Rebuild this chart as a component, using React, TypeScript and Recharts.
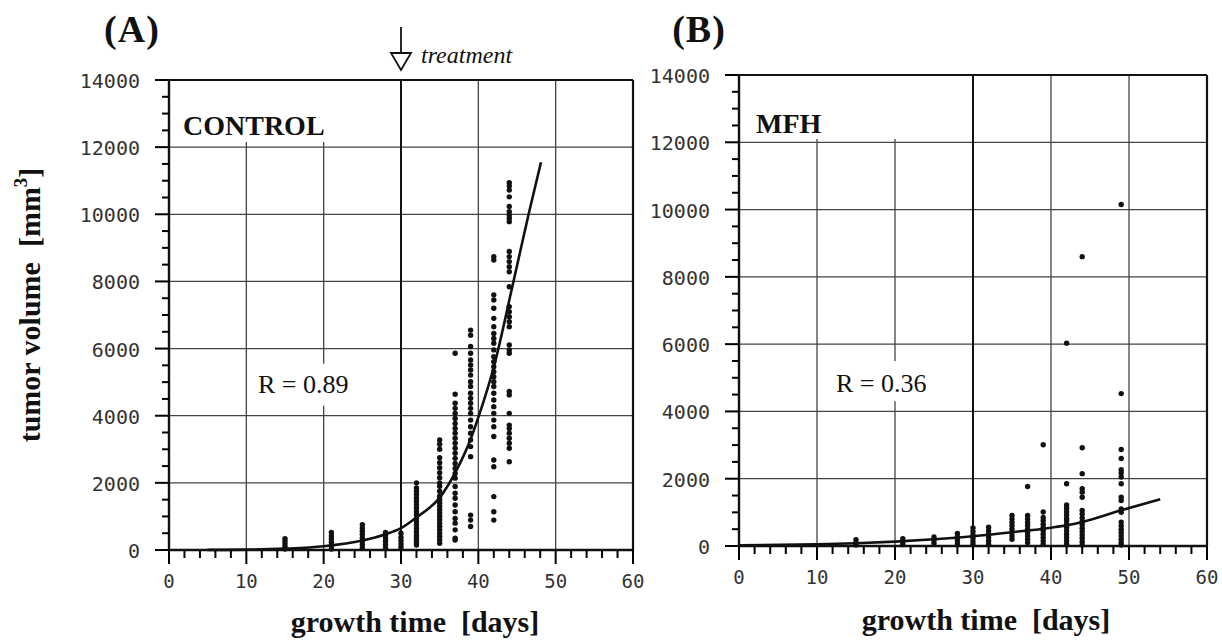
import React from 'react';
import { ComposedChart, Scatter, Line, XAxis, YAxis, ReferenceLine } from 'recharts';

// ---------- data ----------
const controlDays = [15, 21, 25, 28, 30, 32, 35, 37, 39, 42, 44];
const controlVolumes = [
  [30, 110, 190, 270, 340],
  [30, 130, 230, 330, 420, 520],
  [60, 160, 260, 360, 460, 560, 650, 750],
  [60, 160, 260, 360, 450, 520],
  [80, 180, 280, 380, 500],
  [150, 220, 300, 380, 450, 550, 650, 750, 850, 950, 1050, 1150, 1250, 1350, 1450, 1550, 1650, 1750, 1850, 2000],
  [200, 300, 400, 500, 600, 700, 800, 900, 1000, 1100, 1200, 1300, 1400, 1500, 1600, 1750, 1900, 2000, 2150, 2300, 2450, 2600, 2750, 3000, 3150, 3280],
  [300, 350, 600, 800, 940, 1140, 1340, 1540, 1690, 1890, 2140, 2280, 2430, 2580, 2730, 2880, 3030, 3180, 3330, 3480, 3620, 3770, 3920, 4070, 4220, 4370, 4640, 5860],
  [700, 890, 1040, 2780, 3080, 3280, 3480, 3670, 3870, 4070, 4220, 4370, 4520, 4670, 4870, 5010, 5210, 5360, 5510, 5660, 5860, 6060, 6400, 6550],
  [890, 1140, 1590, 2480, 2680, 3380, 3670, 3870, 4070, 4270, 4470, 4670, 4870, 5010, 5160, 5310, 5460, 5610, 5760, 5960, 6160, 6300, 6450, 6650, 6900, 7200, 7450, 7600, 8640, 8740],
  [2630, 3030, 3180, 3330, 3480, 3620, 3720, 4070, 4620, 4720, 5860, 5960, 6110, 6650, 6800, 6950, 7100, 7250, 7840, 8290, 8440, 8590, 8740, 8890, 9780, 9880, 9980, 10080, 10230, 10520, 10720, 10840, 10940],
];
const controlFitDays = [5, 10, 15, 20, 25, 28, 30, 32, 35, 37, 39, 40, 42, 44.4, 46.5, 48.1];
const controlFitVolumes = [3, 10, 40, 110, 280, 470, 650, 970, 1560, 2300, 3300, 3950, 5450, 7850, 10000, 11550];

const mfhDays = [15, 21, 25, 28, 30, 32, 35, 37, 39, 42, 44, 49];
const mfhVolumes = [
  [30, 100, 190],
  [40, 120, 220],
  [80, 170, 270],
  [70, 170, 270, 370],
  [40, 130, 230, 330, 430, 540],
  [50, 150, 250, 350, 450, 560],
  [200, 300, 400, 500, 600, 700, 800, 910],
  [100, 200, 300, 400, 500, 600, 700, 800, 910, 1770],
  [50, 150, 250, 350, 450, 550, 650, 750, 850, 1010, 3010],
  [50, 150, 250, 350, 450, 550, 650, 750, 820, 920, 1020, 1120, 1220, 1850, 6030],
  [30, 130, 230, 330, 430, 530, 630, 730, 830, 950, 1060, 1450, 1600, 1700, 2150, 2920, 8600],
  [30, 100, 200, 300, 400, 500, 600, 710, 1000, 1100, 1350, 1450, 1850, 2050, 2170, 2270, 2600, 2870, 4530, 10150],
];
const mfhFitDays = [0, 10, 15, 20, 25, 30, 35, 40, 42, 44, 49, 54];
const mfhFitVolumes = [20, 50, 80, 130, 200, 290, 410, 545, 615, 715, 1060, 1390];

const xTickLabels = [0, 10, 20, 30, 40, 50, 60];
const yTickLabels = [0, 2000, 4000, 6000, 8000, 10000, 12000, 14000];

// minor ticks
const xTicks: number[] = [];
for (let d = 0; d <= 60; d += 2) xTicks.push(d);
const yTicks: number[] = [];
for (let v = 0; v <= 14000; v += 500) yTicks.push(v);

const toPoints = (days: number[], vols: number[][]) =>
  days.flatMap((d, i) => vols[i].map((v) => ({ day: d, vol: v })));
const toCurve = (days: number[], vols: number[]) => days.map((d, i) => ({ day: d, vol: vols[i] }));

const controlPoints = toPoints(controlDays, controlVolumes);
const mfhPoints = toPoints(mfhDays, mfhVolumes);
const controlCurve = toCurve(controlFitDays, controlFitVolumes);
const mfhCurve = toCurve(mfhFitDays, mfhFitVolumes);

const INK = '#111';
const MONO = '"DejaVu Sans Mono", "Liberation Mono", monospace';
const SERIF = '"Liberation Serif", "DejaVu Serif", serif';

const YTick = (props: any) => {
  const { x, y, payload } = props;
  const v = payload.value;
  const major = yTickLabels.includes(v);
  return (
    <g>
      <line x1={x - (major ? 14 : 7)} x2={x} y1={y} y2={y} stroke="#000" strokeWidth={2} />
      {major && (
        <text x={x - 29} y={y + 8} textAnchor="end" fontFamily={MONO} fontSize={20} fill="#333">
          {v}
        </text>
      )}
    </g>
  );
};

const XTick = (props: any) => {
  const { x, y, payload } = props;
  const v = payload.value;
  const major = xTickLabels.includes(v);
  return (
    <g>
      <line x1={x} x2={x} y1={y} y2={y + (major ? 14 : 8)} stroke="#000" strokeWidth={2} />
      {major && (
        <text x={x} y={y + 38} textAnchor="middle" fontFamily={MONO} fontSize={19} fill="#333">
          {v}
        </text>
      )}
    </g>
  );
};

const Dot = (props: any) => <circle cx={props.cx} cy={props.cy} r={2.7} fill={INK} />;

type Seg = [number, number];
interface PanelProps {
  left: number;
  width: number;
  margin: { top: number; right: number; bottom: number; left: number };
  points: { day: number; vol: number }[];
  curve: { day: number; vol: number }[];
  vGrid: { x: number; segs: Seg[] }[];
}

const GRID = '#444';

const Panel = ({ left, width, margin, points, curve, vGrid }: PanelProps) => (
  <div style={{ position: 'absolute', left, top: 0 }}>
    <ComposedChart width={width} height={642} margin={margin}>
      <XAxis
        type="number"
        dataKey="day"
        domain={[0, 60]}
        ticks={xTicks}
        interval={0}
        tickSize={0}
        tickMargin={0}
        tickLine={false}
        height={40}
        axisLine={{ stroke: INK, strokeWidth: 2.4 }}
        tick={<XTick />}
      />
      <YAxis
        type="number"
        dataKey="vol"
        domain={[0, 14000]}
        ticks={yTicks}
        interval={0}
        tickSize={0}
        tickMargin={0}
        tickLine={false}
        width={60}
        axisLine={{ stroke: INK, strokeWidth: 2.4 }}
        tick={<YTick />}
      />
      {[2000, 4000, 6000, 8000, 10000, 12000].map((v) => (
        <ReferenceLine key={'h' + v} y={v} stroke={GRID} strokeWidth={1.3} />
      ))}
      {vGrid.flatMap((g) =>
        g.segs.map((s, i) => (
          <ReferenceLine
            key={'v' + g.x + '-' + i}
            segment={[
              { x: g.x, y: s[0] },
              { x: g.x, y: s[1] },
            ]}
            stroke={GRID}
            strokeWidth={1.3}
          />
        ))
      )}
      <ReferenceLine x={30} stroke={INK} strokeWidth={2} />
      <ReferenceLine y={14000} stroke={INK} strokeWidth={2.2} />
      <ReferenceLine x={60} stroke={INK} strokeWidth={2.2} />
      <Scatter data={points} shape={<Dot />} isAnimationActive={false} />
      <Line
        data={curve}
        dataKey="vol"
        type="monotone"
        stroke={INK}
        strokeWidth={2.6}
        dot={false}
        activeDot={false}
        isAnimationActive={false}
      />
    </ComposedChart>
  </div>
);

const txt = { fontFamily: SERIF, fill: INK } as const;

export default function App() {
  return (
    <div style={{ position: 'absolute', left: 0, top: 0, width: 1222, height: 642, background: '#fff', overflow: 'hidden' }}>
      <Panel
        left={0}
        width={660}
        margin={{ top: 80, right: 27, bottom: 52, left: 109 }}
        points={controlPoints}
        curve={controlCurve}
        vGrid={[
          { x: 10, segs: [[0, 12150]] },
          { x: 20, segs: [[0, 4300], [5550, 12150]] },
          { x: 40, segs: [[0, 14000]] },
          { x: 50, segs: [[0, 14000]] },
        ]}
      />
      <Panel
        left={640}
        width={582}
        margin={{ top: 75, right: 15, bottom: 56, left: 39 }}
        points={mfhPoints}
        curve={mfhCurve}
        vGrid={[
          { x: 10, segs: [[0, 12100]] },
          { x: 20, segs: [[0, 4300], [5500, 12100]] },
          { x: 40, segs: [[0, 14000]] },
          { x: 50, segs: [[0, 14000]] },
        ]}
      />
      <svg width={1222} height={642} style={{ position: 'absolute', left: 0, top: 0, pointerEvents: 'none' }}>
        <text x={132} y={42} textAnchor="middle" fontSize={38} fontWeight="bold" letterSpacing={1} {...txt}>(A)</text>
        <text x={699} y={42} textAnchor="middle" fontSize={38} fontWeight="bold" letterSpacing={1} {...txt}>(B)</text>
        <line x1={401} x2={401} y1={27} y2={54} stroke={INK} strokeWidth={1.8} />
        <polygon points="391,53 411,53 401,70" fill="#fff" stroke={INK} strokeWidth={1.8} />
        <text x={421} y={63} fontSize={24} fontStyle="italic" {...txt}>treatment</text>
        <text x={183} y={135} fontSize={28} fontWeight="bold" {...txt}>CONTROL</text>
        <text x={258} y={393} fontSize={26} {...txt}>R = 0.89</text>
        <text x={756} y={133} fontSize={28} fontWeight="bold" {...txt}>MFH</text>
        <text x={836} y={392} fontSize={26} {...txt}>R = 0.36</text>
        <text x={415} y={632} textAnchor="middle" fontSize={30} fontWeight="bold" style={{ whiteSpace: 'pre' }} {...txt}>growth time  [days]</text>
        <text x={986} y={630} textAnchor="middle" fontSize={30} fontWeight="bold" style={{ whiteSpace: 'pre' }} {...txt}>growth time  [days]</text>
        <text transform="translate(40,305) rotate(-90)" textAnchor="middle" fontSize={30} fontWeight="bold" style={{ whiteSpace: 'pre' }} {...txt}>
          tumor volume  [mm<tspan dy={-13} fontSize={19}>3</tspan><tspan dy={13}>]</tspan>
        </text>
      </svg>
    </div>
  );
}
